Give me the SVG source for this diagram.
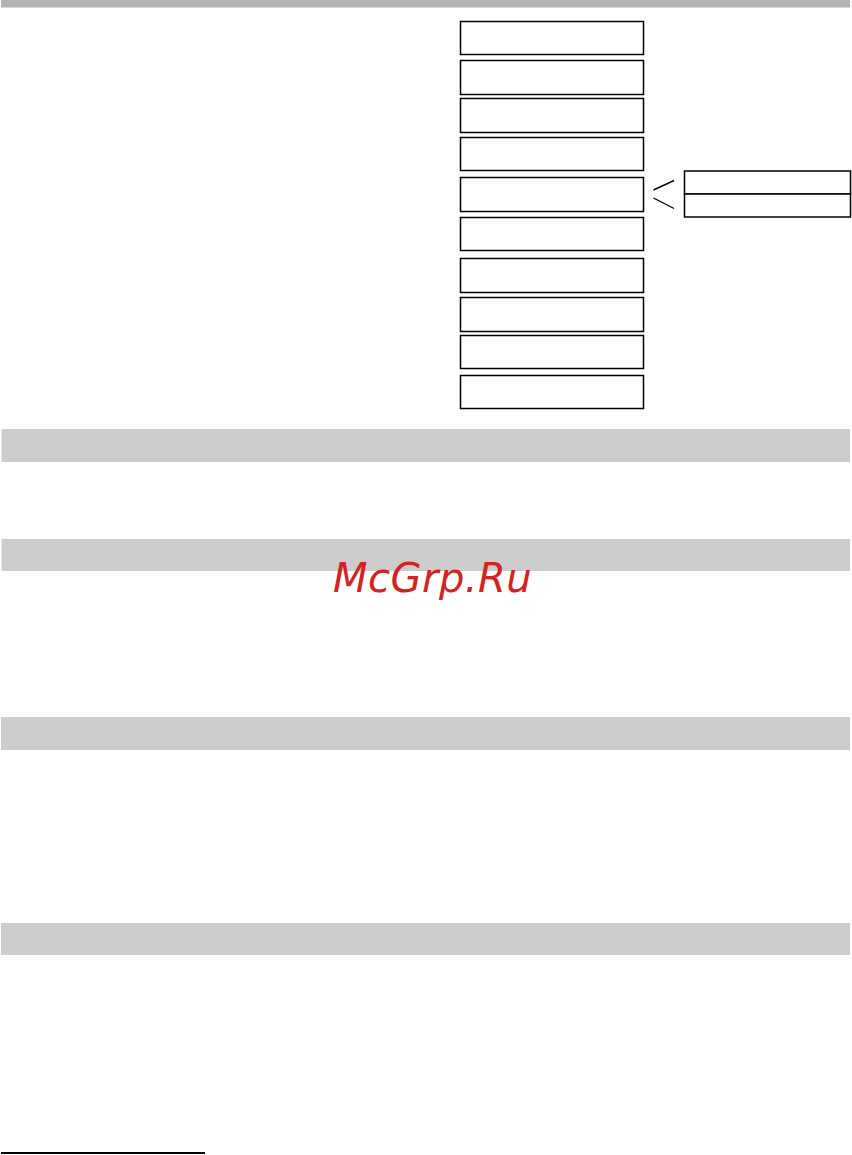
<svg xmlns="http://www.w3.org/2000/svg" width="852" height="1155" viewBox="0 0 852 1155">
<style>
.bar{fill:#cccccc}
.box{fill:#ffffff;stroke:#000000;stroke-width:1.5}
.ln{stroke:#000000;stroke-width:1.4;fill:none}
.wm{font-family:"DejaVu Sans",sans-serif;font-style:oblique;font-size:40px;letter-spacing:0.5px;fill:#d42222}
</style>
<rect x="1" y="0" width="849" height="7.5" fill="#b2b2b2"/>
<rect class="bar" x="1.5" y="429" width="848.5" height="33"/>
<rect class="bar" x="1.5" y="539" width="848.5" height="32"/>
<rect class="bar" x="1" y="717" width="849" height="33"/>
<rect class="bar" x="1" y="923" width="849" height="32"/>
<g id="node1"><rect class="box" x="460.5" y="21.5" width="183" height="33"/></g>
<g id="node2"><rect class="box" x="460.5" y="60.5" width="183" height="34"/></g>
<g id="node3"><rect class="box" x="460.5" y="98.5" width="183" height="34"/></g>
<g id="node4"><rect class="box" x="460.5" y="137.5" width="183" height="33"/></g>
<g id="node5"><rect class="box" x="460.5" y="177.5" width="183" height="34"/></g>
<g id="node6"><rect class="box" x="460.5" y="217.5" width="183" height="33"/></g>
<g id="node7"><rect class="box" x="460.5" y="258.5" width="183" height="34"/></g>
<g id="node8"><rect class="box" x="460.5" y="297.5" width="183" height="34"/></g>
<g id="node9"><rect class="box" x="460.5" y="335.5" width="183" height="33"/></g>
<g id="node10"><rect class="box" x="460.5" y="375.5" width="183" height="33"/></g>
<g id="node11"><rect class="box" x="684.5" y="171" width="166" height="23"/></g>
<g id="node12"><rect class="box" x="684.5" y="194" width="166" height="23"/></g>
<g id="connectors">
<line class="ln" x1="653.5" y1="190" x2="674" y2="180.5"/>
<line class="ln" x1="653.5" y1="198" x2="674" y2="208.5"/>
</g>
<line x1="1" y1="1153" x2="205" y2="1153" stroke="#000000" stroke-width="2"/>
<text class="wm" x="333" y="592">McGrp.Ru</text>
</svg>
